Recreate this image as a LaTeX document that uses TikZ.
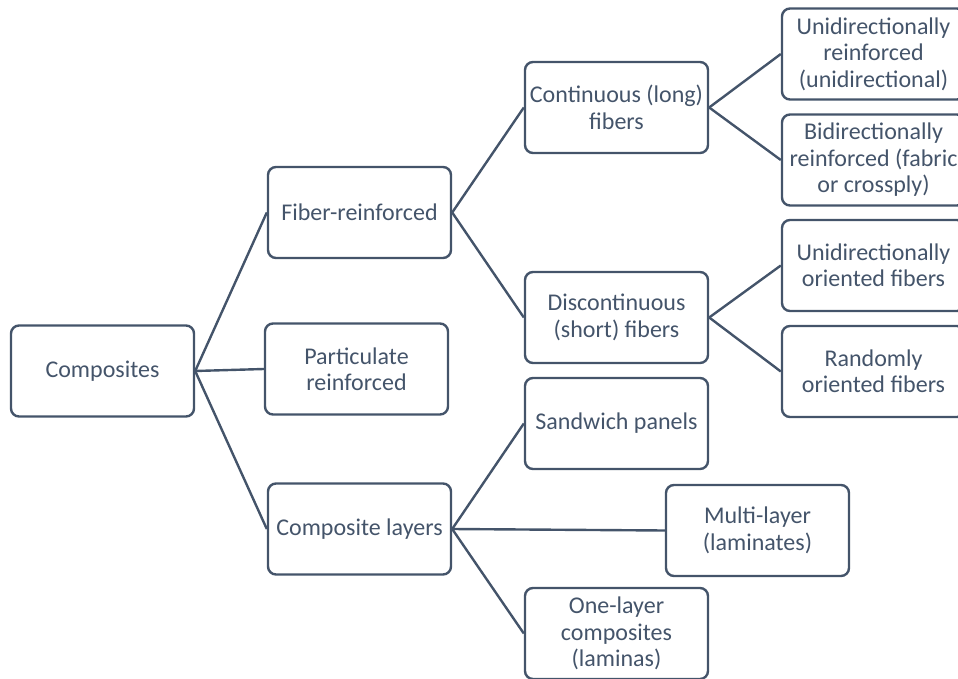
\documentclass[tikz,border=0pt]{standalone}
\usepackage{fontspec}
\setmainfont{Carlito}
\definecolor{slate}{HTML}{44546A}
\begin{document}
\begin{tikzpicture}[x=1pt,y=-1pt,
  box/.style={draw=slate, line width=2.4pt, rounded corners=8pt, minimum width=183pt, minimum height=91pt,
    align=center, text=slate, font=\fontsize{24}{26.5}\selectfont, inner sep=2pt},
  link/.style={draw=slate, line width=2.4pt}]
\useasboundingbox (0,0) rectangle (958,679);
\clip (0,0) rectangle (958,679);
\node[box] (comp) at (102.5,371) {Composites};
\node[box] (fib) at (359.5,212.5) {Fiber-reinforced};
\node[box] (part) at (356.5,369) {Particulate\\reinforced};
\node[box] (lay) at (359.5,529) {Composite layers};
\node[box] (cont) at (616.5,107.5) {Continuous (long)\\fibers};
\node[box] (disc) at (616.5,317.5) {Discontinuous\\(short) fibers};
\node[box] (sand) at (616.5,423.5) {Sandwich panels};
\node[box] (multi) at (757.5,530.5) {Multi-layer\\(laminates)};
\node[box] (one) at (616.5,633.5) {One-layer\\composites\\(laminas)};
\node[box] (uni) at (873.5,54) {Unidirectionally\\reinforced\\(unidirectional)};
\node[box] (bi) at (873.5,160) {Bidirectionally\\reinforced (fabric\\or crossply)};
\node[box] (unio) at (873.5,265.5) {Unidirectionally\\oriented fibers};
\node[box] (rand) at (873.5,371.5) {Randomly\\oriented fibers};
\draw[link] (comp.east) -- (fib.west);
\draw[link] (comp.east) -- (part.west);
\draw[link] (comp.east) -- (lay.west);
\draw[link] (fib.east) -- (cont.west);
\draw[link] (fib.east) -- (disc.west);
\draw[link] (lay.east) -- (sand.west);
\draw[link] (lay.east) -- (multi.west);
\draw[link] (lay.east) -- (one.west);
\draw[link] (cont.east) -- (uni.west);
\draw[link] (cont.east) -- (bi.west);
\draw[link] (disc.east) -- (unio.west);
\draw[link] (disc.east) -- (rand.west);
\end{tikzpicture}
\end{document}
